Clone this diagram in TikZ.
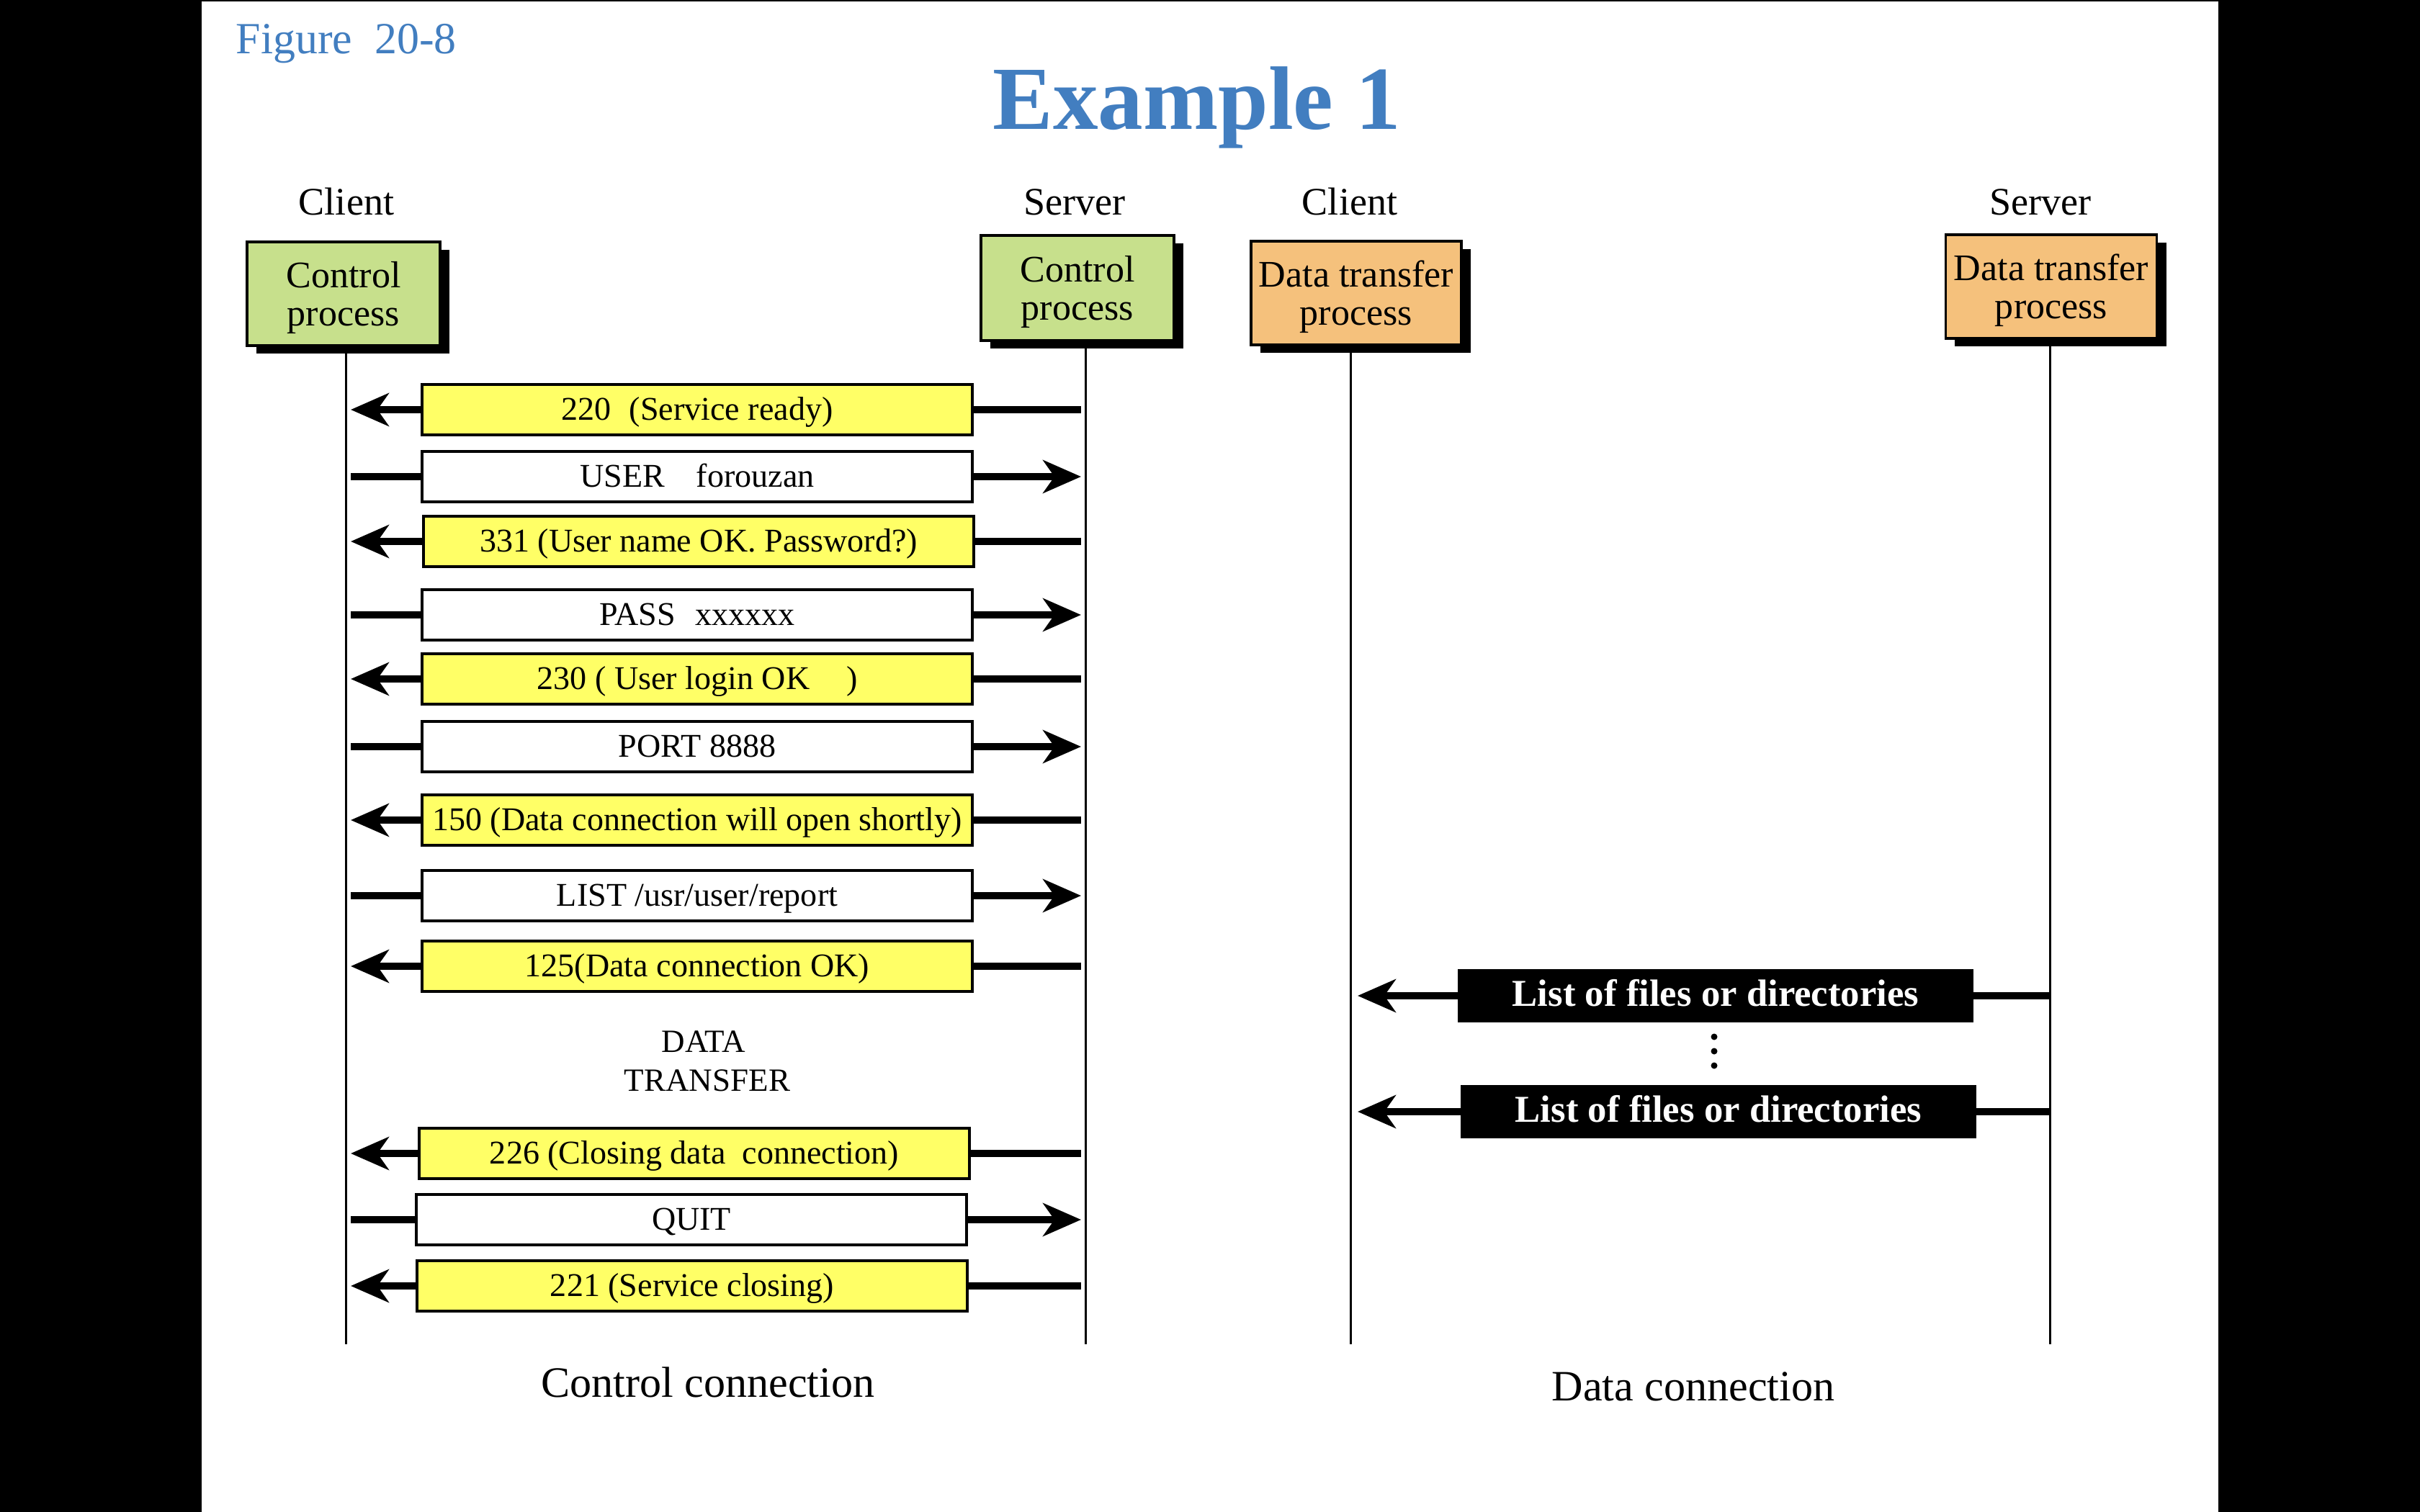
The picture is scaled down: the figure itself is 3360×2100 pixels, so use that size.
\documentclass[tikz,border=0pt]{standalone}
\usepackage{fontspec}
\setmainfont{Liberation Serif}
\usetikzlibrary{arrows.meta,shadows}
\definecolor{procgreen}{RGB}{199,224,140}
\definecolor{procorange}{RGB}{245,193,124}
\definecolor{msgyellow}{RGB}{255,255,102}
\definecolor{titleblue}{RGB}{66,126,192}
\begin{document}
\begin{tikzpicture}[x=0.01cm,y=-0.01cm,
  proc/.style={draw=black, line width=1pt, minimum width=2.68cm, minimum height=1.44cm,
    inner sep=0pt, align=center, font=\fontsize{14.8}{15.2}\selectfont,
    drop shadow={shadow xshift=0.13cm, shadow yshift=-0.11cm, fill=black, opacity=1}},
  procG/.style={proc, fill=procgreen},
  procO/.style={proc, fill=procorange, minimum width=2.92cm},
  msg/.style={draw=black, line width=1.1pt, minimum width=7.63cm, minimum height=0.70cm,
    inner sep=0pt, text height=10.6pt, text depth=2.6pt, font=\fontsize{13.1}{15}\selectfont},
  msgY/.style={msg, fill=msgyellow},
  msgW/.style={msg, fill=white},
  datab/.style={draw=black, fill=black, text=white, font=\bfseries\fontsize{15}{18}\selectfont,
    minimum width=7.14cm, minimum height=0.73cm, inner sep=0pt, text height=11.3pt, text depth=3.3pt},
  shaft/.style={line width=3.1pt},
  arr/.style={shaft, -{Stealth[length=15pt, width=13pt, inset=4.5pt]}},
  life/.style={line width=0.85pt},
  role/.style={anchor=base, font=\fontsize{15.4}{18}\selectfont},
  caption/.style={anchor=base, font=\fontsize{17.1}{20}\selectfont},
  small/.style={anchor=base, font=\fontsize{12.8}{15}\selectfont}
]
\useasboundingbox (0,0) rectangle (3360,2100);
\fill[black] (0,0) rectangle (3360,2100);
\fill[white] (280,2) rectangle (3080,2100);

% titles
\node[anchor=base west, text=titleblue, font=\fontsize{17.6}{20}\selectfont, inner sep=0pt] (fig) at (327,75) {Figure\hspace{0.5em}20-8};
\node[anchor=base, text=titleblue, font=\bfseries\fontsize{35.6}{40}\selectfont, inner sep=0pt] (title) at (1662,180) {Example 1};

% role labels
\node[role, inner sep=0pt] (r1) at (481,298) {Client};
\node[role, inner sep=0pt] (r2) at (1492,298) {Server};
\node[role, inner sep=0pt] (r3) at (1874,298) {Client};
\node[role, inner sep=0pt] (r4) at (2833,298) {Server};

% lifelines
\coordinate (l1t) at (480,460); \coordinate (l1b) at (480,1867);
\coordinate (l2t) at (1507,460); \coordinate (l2b) at (1507,1867);
\coordinate (l3t) at (1875,460); \coordinate (l3b) at (1875,1867);
\coordinate (l4t) at (2846,460); \coordinate (l4b) at (2846,1867);
\draw[life] (l1t) -- (l1b);
\draw[life] (l2t) -- (l2b);
\draw[life] (l3t) -- (l3b);
\draw[life] (l4t) -- (l4b);

% process boxes
\node[procG] (cc) at (477,408) {\rule{0pt}{0.9em}Control\\process};
\node[procG, minimum height=1.46cm] (sc) at (1496,400) {\rule{0pt}{0.9em}Control\\process};
\node[procO] (cd) at (1883,407) {\rule{0pt}{0.9em}Data transfer\\process};
\node[procO, minimum width=2.93cm] (sd) at (2848,398) {\rule{0pt}{0.9em}Data transfer\\process};

% arrow end x positions
\coordinate (cL) at (487,0);
\coordinate (cR) at (1501,0);
\coordinate (dL) at (1885,0);
\coordinate (dR) at (2845,0);

% control messages
\node[msgY] (m1) at (968,569) {220\hspace{0.55em}(Service ready)};
\node[msgW] (m2) at (968,662) {USER\hspace{0.95em}forouzan};
\node[msgY] (m3) at (970,752) {331 (User name OK. Password?)};
\node[msgW] (m4) at (968,854) {PASS\hspace{0.6em}xxxxxx};
\node[msgY] (m5) at (968,943) {230 ( User login OK\hspace{1.1em})};
\node[msgW] (m6) at (968,1037) {PORT 8888};
\node[msgY] (m7) at (968,1139) {150 (Data connection will open shortly)};
\node[msgW] (m8) at (968,1244) {LIST /usr/user/report};
\node[msgY] (m9) at (968,1342) {125(Data connection OK)};
\node[msgY] (m10) at (964,1602) {226 (Closing data\hspace{0.5em}connection)};
\node[msgW] (m11) at (960,1694) {QUIT};
\node[msgY] (m12) at (961,1786) {221 (Service closing)};

% server -> client
\foreach \m in {m1,m3,m5,m7,m9,m10,m12}{
  \draw[shaft] (\m.east) -- (\m.east -| cR);
  \draw[arr] (\m.west) -- (\m.west -| cL);
}
% client -> server
\foreach \m in {m2,m4,m6,m8,m11}{
  \draw[shaft] (\m.west) -- (\m.west -| cL);
  \draw[arr] (\m.east) -- (\m.east -| cR);
}

\node[small, inner sep=0pt] (dt1) at (977,1461) {DATA};
\node[small, inner sep=0pt] (dt2) at (982,1515) {TRANSFER};

% data messages
\node[datab] (d1) at (2382,1383) {List of files or directories};
\node[datab] (d2) at (2386,1544) {List of files or directories};
\foreach \m in {d1,d2}{
  \draw[shaft] (\m.east) -- (\m.east -| dR);
  \draw[arr] (\m.west) -- (\m.west -| dL);
}
\fill (2380,1440) circle[radius=0.045cm];
\fill (2380,1460) circle[radius=0.045cm];
\fill (2380,1480) circle[radius=0.045cm];

% captions
\node[caption, inner sep=0pt] (cap1) at (983,1940) {Control connection};
\node[caption, inner sep=0pt] (cap2) at (2351,1945) {Data connection};
\end{tikzpicture}
\end{document}
